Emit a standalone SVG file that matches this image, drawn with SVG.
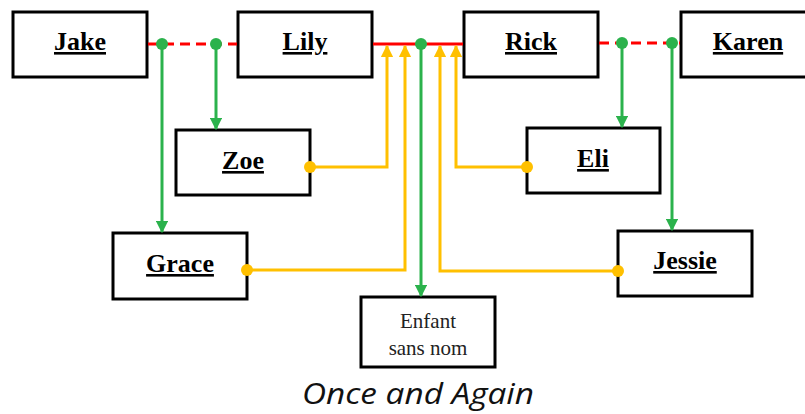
<svg xmlns="http://www.w3.org/2000/svg" width="805" height="414" viewBox="0 0 805 414">
<style>
.box{fill:#fff;stroke:#000;stroke-width:3}
.name{font-family:"Liberation Serif",serif;font-weight:bold;font-size:26px;text-decoration:underline;text-anchor:middle}
.plain{font-family:"Liberation Serif",serif;font-size:21px;fill:#222;text-anchor:middle}
.g{stroke:#2bb24c;stroke-width:3;fill:none}
.y{stroke:#ffc000;stroke-width:3;fill:none}
.rd{stroke:#ff0000;stroke-width:3;fill:none;stroke-dasharray:10,6}
.rs{stroke:#ff0000;stroke-width:3;fill:none}
.gd{fill:#2bb24c}
.yd{fill:#ffc000}
</style>
<defs>
<marker id="ag" viewBox="0 0 10 10" refX="9" refY="5" markerWidth="4.2" markerHeight="4.2" orient="auto" markerUnits="strokeWidth"><path d="M0,0 L10,5 L0,10 z" fill="#2bb24c"/></marker>
<marker id="ay" viewBox="0 0 10 10" refX="9" refY="5" markerWidth="4.2" markerHeight="4.2" orient="auto" markerUnits="strokeWidth"><path d="M0,0 L10,5 L0,10 z" fill="#ffc000"/></marker>
</defs>
<g id="jake"><rect class="box" x="13" y="12" width="134" height="65"/><text class="name" x="80" y="50">Jake</text></g>
<g id="lily"><rect class="box" x="238" y="12" width="134" height="65"/><text class="name" x="305" y="50">Lily</text></g>
<g id="rick"><rect class="box" x="464" y="12" width="134" height="65"/><text class="name" x="531" y="50">Rick</text></g>
<g id="karen"><rect class="box" x="681" y="12" width="134" height="65"/><text class="name" x="748" y="50">Karen</text></g>
<g id="zoe"><rect class="box" x="176" y="130" width="134" height="65"/><text class="name" x="243" y="169">Zoe</text></g>
<g id="eli"><rect class="box" x="527" y="128" width="133" height="65"/><text class="name" x="593" y="167">Eli</text></g>
<g id="grace"><rect class="box" x="113" y="233" width="134" height="66"/><text class="name" x="180" y="272">Grace</text></g>
<g id="jessie"><rect class="box" x="618" y="231" width="134" height="65"/><text class="name" x="685" y="269">Jessie</text></g>
<g id="enfant"><rect class="box" x="361" y="297" width="134" height="70"/><text class="plain" x="428" y="328">Enfant</text><text class="plain" x="428" y="355">sans nom</text></g>
<g id="connectors">
<line class="rd" x1="148" y1="44" x2="237" y2="44"/>
<line class="rs" x1="373" y1="44" x2="463" y2="44"/>
<line class="rd" x1="599" y1="43" x2="680" y2="43"/>
<path class="g" d="M162,44 V232" marker-end="url(#ag)"/>
<path class="g" d="M216,44 V129" marker-end="url(#ag)"/>
<path class="g" d="M421,44 V296" marker-end="url(#ag)"/>
<path class="g" d="M622,43 V127" marker-end="url(#ag)"/>
<path class="g" d="M672,43 V230" marker-end="url(#ag)"/>
<path class="y" d="M310,167 H387 V46" marker-end="url(#ay)"/>
<path class="y" d="M247,270 H405 V46" marker-end="url(#ay)"/>
<path class="y" d="M618,271 H440 V46" marker-end="url(#ay)"/>
<path class="y" d="M527,167 H456 V46" marker-end="url(#ay)"/>
<circle class="gd" cx="162" cy="44" r="6"/>
<circle class="gd" cx="216" cy="44" r="6"/>
<circle class="gd" cx="421" cy="44" r="6"/>
<circle class="gd" cx="622" cy="43" r="6"/>
<circle class="gd" cx="672" cy="43" r="6"/>
<circle class="yd" cx="310" cy="167" r="6"/>
<circle class="yd" cx="247" cy="270" r="6"/>
<circle class="yd" cx="618" cy="271" r="6"/>
<circle class="yd" cx="527" cy="167" r="6"/>
</g>
<text x="418" y="404" textLength="232" lengthAdjust="spacingAndGlyphs" style="font-family:'Open Sans',sans-serif;font-style:italic;font-size:29px;text-anchor:middle;fill:#111">Once and Again</text>
</svg>
